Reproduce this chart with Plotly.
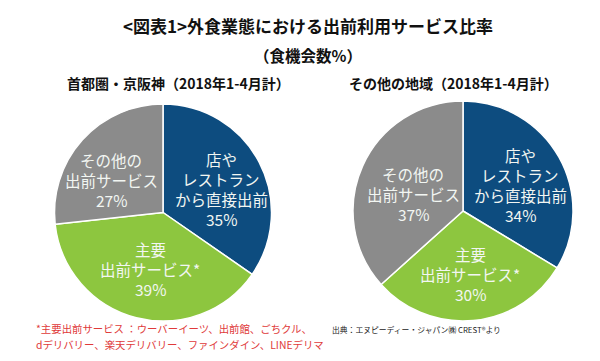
import plotly.graph_objects as go

categories = ["店や<br>レストラン<br>から直接出前", "主要<br>出前サービス*", "その他の<br>出前サービス"]
left_values = [35, 39, 27]
right_values = [34, 30, 37]
colors = ["#0d4c7f", "#8dc63f", "#8b8b8b"]

title = "<b>&lt;図表1&gt;外食業態における出前利用サービス比率</b>"
subtitle = "<b>（食機会数%）</b>"
left_title = "<b>首都圏・京阪神（2018年1-4月計）</b>"
right_title = "<b>その他の地域（2018年1-4月計）</b>"
note1 = "*主要出前サービス ：ウーバーイーツ、出前館、ごちクル、"
note2 = "dデリバリー、楽天デリバリー、ファインダイン、LINEデリマ"
source = "出典：エヌピーディー・ジャパン㈱ CREST®より"

FONT = "Noto Sans CJK JP"
W, H = 600, 361

def px(x):
    return x / W

def py(y):
    return 1 - y / H

fig = go.Figure()

fig.add_trace(go.Pie(
    values=left_values, labels=categories, sort=False, direction="clockwise",
    rotation=0, marker=dict(colors=colors, line=dict(color="white", width=1.5)),
    textinfo="none", hoverinfo="label+value",
    domain=dict(x=[px(45), px(265)], y=[py(313), py(96)]),
    showlegend=False,
))
fig.add_trace(go.Pie(
    values=right_values, labels=categories, sort=False, direction="clockwise",
    rotation=0, marker=dict(colors=colors, line=dict(color="white", width=1.5)),
    textinfo="none", hoverinfo="label+value",
    domain=dict(x=[px(345), px(565)], y=[py(313), py(93)]),
    showlegend=False,
))

label_font = dict(family=FONT, size=15.5, color="#f2f6f2")
LINE = 20

# (center x, first-line y) for each slice label
left_pos = [(213, 151), (142, 241), (103, 152)]
right_pos = [(512, 147), (462, 246), (405, 166)]

for pos, vals in ((left_pos, left_values), (right_pos, right_values)):
    for (x, y0), cat, v in zip(pos, categories, vals):
        lines = cat.split("<br>") + [f"{v}%"]
        for i, ln in enumerate(lines):
            fig.add_annotation(
                x=px(x), y=py(y0 + i * LINE), xref="paper", yref="paper",
                text=ln, showarrow=False, font=label_font,
                xanchor="center", yanchor="middle", align="center",
                borderpad=0,
            )

texts = [
    (title, 300, 18, dict(family=FONT, size=17, color="#111111")),
    (subtitle, 300, 47, dict(family=FONT, size=15.5, color="#111111")),
    (left_title, 170, 75, dict(family=FONT, size=14, color="#111111")),
    (right_title, 445, 75, dict(family=FONT, size=14, color="#111111")),
]
for t, x, y, f in texts:
    fig.add_annotation(x=px(x), y=py(y), xref="paper", yref="paper", text=t,
                       showarrow=False, font=f, xanchor="center", yanchor="middle",
                       borderpad=0)

fig.add_annotation(x=px(27), y=py(320), xref="paper", yref="paper", text=note1,
                   showarrow=False, font=dict(family=FONT, size=10.4, color="#e03a3a"),
                   xanchor="left", yanchor="middle", borderpad=0)
fig.add_annotation(x=px(27), y=py(336), xref="paper", yref="paper", text=note2,
                   showarrow=False, font=dict(family=FONT, size=10.4, color="#e03a3a"),
                   xanchor="left", yanchor="middle", borderpad=0)
fig.add_annotation(x=px(323), y=py(321), xref="paper", yref="paper", text=source,
                   showarrow=False, font=dict(family=FONT, size=7.8, color="#222222"),
                   xanchor="left", yanchor="middle", borderpad=0)

fig.update_layout(
    width=W, height=H, margin=dict(l=0, r=0, t=0, b=0),
    paper_bgcolor="white", plot_bgcolor="white",
    font=dict(family=FONT),
)

fig.write_html("out.html")
